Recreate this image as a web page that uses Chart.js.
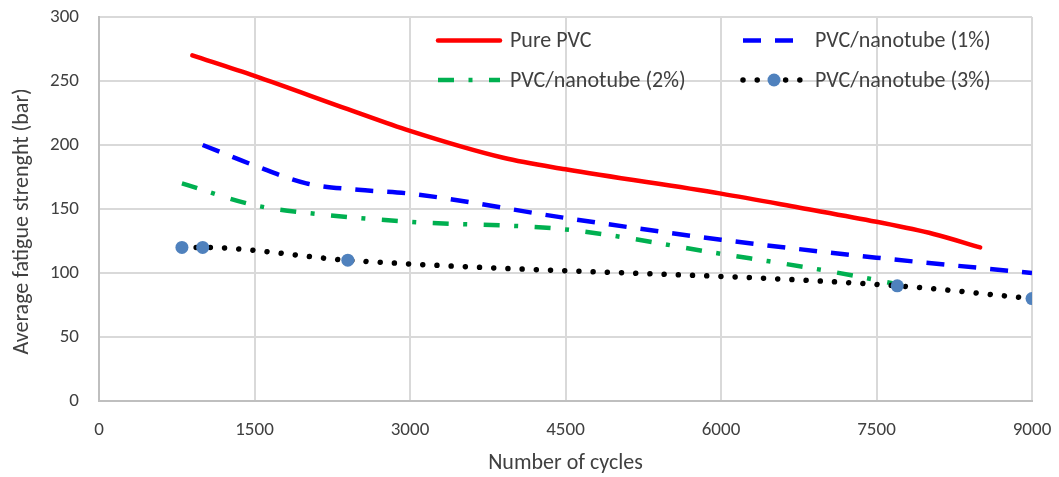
<!DOCTYPE html>
<html>
<head>
<meta charset="utf-8">
<script src="https://cdn.jsdelivr.net/npm/chart.js@4.4.1/dist/chart.umd.min.js"></script>
<style>
  html, body { margin: 0; padding: 0; background: #ffffff; }
  #wrap { width: 1059px; height: 477px; position: relative; }
</style>
</head>
<body>
<div id="wrap"><canvas id="c" width="1059" height="477"></canvas></div>
<script>
// ---- Data ----
const seriesNames = ['Pure PVC', 'PVC/nanotube (1%)', 'PVC/nanotube (2%)', 'PVC/nanotube (3%)'];

const pureX = [900, 1500, 2400, 3000, 3900, 4500, 6000, 6760, 7500, 8050, 8500];
const pureY = [270, 254, 228, 211, 190, 181, 162, 151, 140, 130.5, 120];

const nano1X = [1000, 1500, 2000, 2500, 3000, 4500, 6000, 7500, 9000];
const nano1Y = [200, 184, 170, 165, 162, 143, 126, 112, 100];

const nano2X = [800, 1500, 2000, 3000, 4500, 6000, 7000, 7850];
const nano2Y = [170, 153, 147, 140, 134, 115, 102, 89];

const nano3X = [800, 1000, 2400, 7700, 9000];
const nano3Y = [120, 120, 110, 90, 80];

const xTickValues = [0, 1500, 3000, 4500, 6000, 7500, 9000];
const yTickValues = [0, 50, 100, 150, 200, 250, 300];

const xTitle = 'Number of cycles';
const yTitle = 'Average fatigue strenght (bar)     ';

// ---- helpers ----
function pts(xs, ys) { return xs.map((x, i) => ({ x: x, y: ys[i] })); }

const FONT = "Carlito, Lato, 'Open Sans', sans-serif";
const TEXT_COLOR = '#404040';

const legendPlugin = {
  id: 'gridLegend',
  afterDraw(chart, args, opts) {
    const ctx = chart.ctx;
    const cols = opts.cols, rows = opts.rows;
    ctx.save();
    chart.data.datasets.forEach((ds, i) => {
      const x0 = cols[i % 2];
      const y = rows[Math.floor(i / 2)];
      ctx.save();
      ctx.strokeStyle = ds.borderColor;
      ctx.lineWidth = ds.borderWidth;
      ctx.lineCap = ds.borderCapStyle || 'butt';
      ctx.setLineDash(ds.borderDash || []);
      ctx.beginPath();
      ctx.moveTo(x0, y);
      ctx.lineTo(x0 + opts.sampleWidth, y);
      ctx.stroke();
      if (ds.pointRadius > 0) {
        ctx.setLineDash([]);
        ctx.fillStyle = ds.pointBackgroundColor;
        ctx.beginPath();
        ctx.arc(x0 + opts.sampleWidth / 2, y, ds.pointRadius, 0, Math.PI * 2);
        ctx.fill();
      }
      ctx.restore();
      ctx.fillStyle = TEXT_COLOR;
      ctx.font = opts.fontSize + 'px ' + FONT;
      ctx.textAlign = 'left';
      ctx.textBaseline = 'middle';
      ctx.fillText(seriesNames[i], x0 + opts.textOffset, y + 1);
    });
    ctx.restore();
  }
};

const ctx = document.getElementById('c').getContext('2d');
new Chart(ctx, {
  type: 'scatter',
  data: {
    datasets: [
      {
        label: seriesNames[0],
        data: pts(pureX, pureY),
        showLine: true,
        borderColor: '#FF0000',
        backgroundColor: '#FF0000',
        borderWidth: 4.5,
        borderCapStyle: 'round',
        pointRadius: 0,
        cubicInterpolationMode: 'monotone',
        order: 4
      },
      {
        label: seriesNames[1],
        data: pts(nano1X, nano1Y),
        showLine: true,
        borderColor: '#0000FF',
        backgroundColor: '#0000FF',
        borderWidth: 4.5,
        borderDash: [18, 14],
        borderCapStyle: 'butt',
        pointRadius: 0,
        cubicInterpolationMode: 'monotone',
        order: 3
      },
      {
        label: seriesNames[2],
        data: pts(nano2X, nano2Y),
        showLine: true,
        borderColor: '#00B050',
        backgroundColor: '#00B050',
        borderWidth: 4.5,
        borderDash: [16, 14.5, 4, 16.5],
        borderCapStyle: 'butt',
        pointRadius: 0,
        cubicInterpolationMode: 'monotone',
        order: 2
      },
      {
        label: seriesNames[3],
        data: pts(nano3X, nano3Y),
        showLine: true,
        borderColor: '#000000',
        backgroundColor: '#4F81BD',
        borderWidth: 5.5,
        borderDash: [0.01, 14.2],
        borderCapStyle: 'round',
        pointRadius: 6.5,
        pointHoverRadius: 6.5,
        pointBackgroundColor: '#4F81BD',
        pointBorderColor: '#4F81BD',
        pointBorderWidth: 0,
        cubicInterpolationMode: 'monotone',
        order: 1
      }
    ]
  },
  options: {
    responsive: false,
    animation: false,
    devicePixelRatio: 1,
    layout: { padding: { top: 17, right: 27, left: 0, bottom: 0 } },
    plugins: {
      legend: { display: false },
      tooltip: { enabled: false },
      gridLegend: {
        cols: [438, 743],
        rows: [40.5, 80],
        sampleWidth: 62,
        textOffset: 72,
        fontSize: 22
      }
    },
    scales: {
      x: {
        type: 'linear',
        min: 0,
        max: 9000,
        afterFit(scale) {
          scale.height = 76;
          scale.paddingLeft = 0; scale.paddingRight = 0;
          scale.paddingTop = 0; scale.paddingBottom = 0;
        },
        afterBuildTicks(scale) { scale.ticks = xTickValues.map(v => ({ value: v })); },
        ticks: {
          color: TEXT_COLOR,
          font: { family: FONT, size: 19 },
          padding: 18,
          maxRotation: 0,
          callback: (v) => String(v)
        },
        grid: { color: '#D9D9D9', lineWidth: 2, drawTicks: false },
        border: { color: '#BFBFBF', width: 2 },
        title: {
          display: true,
          text: xTitle,
          color: TEXT_COLOR,
          font: { family: FONT, size: 22 },
          padding: { top: 0, bottom: 0 }
        }
      },
      y: {
        type: 'linear',
        min: 0,
        max: 300,
        afterFit(scale) {
          scale.width = 99;
          scale.paddingLeft = 0; scale.paddingRight = 0;
          scale.paddingTop = 0; scale.paddingBottom = 0;
        },
        afterBuildTicks(scale) { scale.ticks = yTickValues.map(v => ({ value: v })); },
        ticks: {
          color: TEXT_COLOR,
          font: { family: FONT, size: 19 },
          padding: 20,
          callback: (v) => String(v)
        },
        grid: { color: '#D9D9D9', lineWidth: 2, drawTicks: false },
        border: { color: '#BFBFBF', width: 2 },
        title: {
          display: true,
          text: yTitle,
          color: TEXT_COLOR,
          font: { family: FONT, size: 22 },
          padding: { top: 9, bottom: 0 }
        }
      }
    }
  },
  plugins: [legendPlugin]
});
</script>
</body>
</html>
